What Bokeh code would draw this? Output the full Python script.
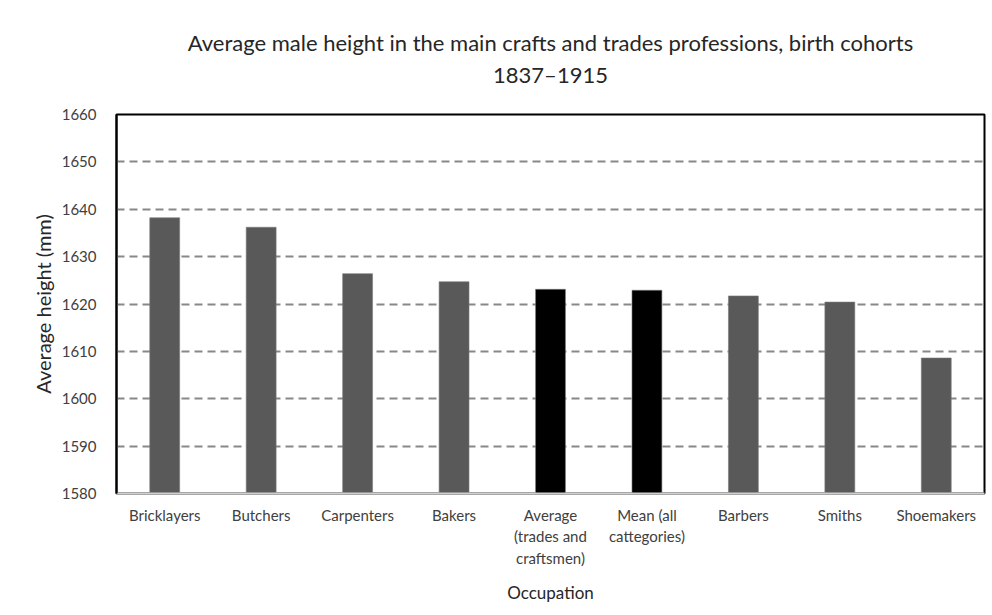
from bokeh.plotting import figure
from bokeh.models import FixedTicker, ColumnDataSource, Title
from bokeh.embed import file_html
from bokeh.resources import INLINE

title_lines = ["Average male height in the main crafts and trades professions, birth cohorts",
               "1837\u20131915"]
categories = ["Bricklayers", "Butchers", "Carpenters", "Bakers",
              "Average\n(trades and\ncraftsmen)", "Mean (all\ncattegories)",
              "Barbers", "Smiths", "Shoemakers"]
heights = [1638.2, 1636.2, 1626.4, 1624.7, 1623.1, 1622.9, 1621.7, 1620.4, 1608.6]
highlighted = ["Average\n(trades and\ncraftsmen)", "Mean (all\ncattegories)"]
y_ticks = [1580, 1590, 1600, 1610, 1620, 1630, 1640, 1650, 1660]
grid_ticks = [1590, 1600, 1610, 1620, 1630, 1640, 1650]

FONT = "Lato"
colors = ["#000000" if c in highlighted else "#595959" for c in categories]
src = ColumnDataSource(dict(cat=categories, h=heights, color=colors))

W, H = 990, 610
FL, FR, FT, FB = 116, 984, 114, 493   # frame edges on the page
p = figure(x_range=categories, y_range=(1580, 1660), width=W, height=H,
           output_backend="svg", toolbar_location=None,
           min_border_left=FL, min_border_right=W - FR, min_border_top=FT,
           min_border_bottom=H - FB)
p.x_range.range_padding = 0

p.vbar(x="cat", top="h", bottom=1580, width=0.31, source=src,
       fill_color="color", line_color="#7a7a7a", line_width=0.6)

p.title.text = title_lines[0]
p.title.align = "center"
p.title.text_font = FONT
p.title.text_font_size = "22px"
p.title.text_font_style = "normal"
p.title.text_color = "#262626"
p.title.standoff = -48
p.add_layout(Title(text=title_lines[1], align="center", text_font=FONT,
                   text_font_size="22px", text_font_style="normal",
                   text_color="#262626", standoff=54), "above")

p.outline_line_color = "#000000"
p.outline_line_width = 2

p.yaxis.ticker = FixedTicker(ticks=y_ticks)
p.yaxis.axis_label = "Average height (mm)"
p.yaxis.axis_label_text_font = FONT
p.yaxis.axis_label_text_font_size = "20px"
p.yaxis.axis_label_text_font_style = "normal"
p.yaxis.axis_label_text_color = "#262626"
p.yaxis.axis_label_standoff = 4
p.yaxis.major_label_text_font = FONT
p.yaxis.major_label_text_font_size = "15px"
p.yaxis.major_label_text_color = "#404040"
p.yaxis.major_tick_line_color = None
p.yaxis.minor_tick_line_color = None
p.yaxis.axis_line_color = "#000000"
p.yaxis.axis_line_width = 2
p.yaxis.major_label_standoff = 14

p.xaxis.axis_label = "Occupation"
p.xaxis.axis_label_text_font = FONT
p.xaxis.axis_label_text_font_size = "17px"
p.xaxis.axis_label_text_font_style = "normal"
p.xaxis.axis_label_text_color = "#262626"
p.xaxis.axis_label_standoff = 12
p.xaxis.major_label_text_font = FONT
p.xaxis.major_label_text_font_size = "15px"
p.xaxis.major_label_text_color = "#404040"
p.xaxis.major_tick_line_color = None
p.xaxis.axis_line_color = "#d0d0d0"
p.xaxis.axis_line_width = 2
p.xaxis.major_label_standoff = 6

p.xgrid.grid_line_color = None
p.ygrid.ticker = FixedTicker(ticks=grid_ticks)
p.ygrid.grid_line_color = "#888888"
p.ygrid.grid_line_width = 2
p.ygrid.grid_line_dash = "8 5"

open("out.html", "w").write(file_html(p, INLINE))
